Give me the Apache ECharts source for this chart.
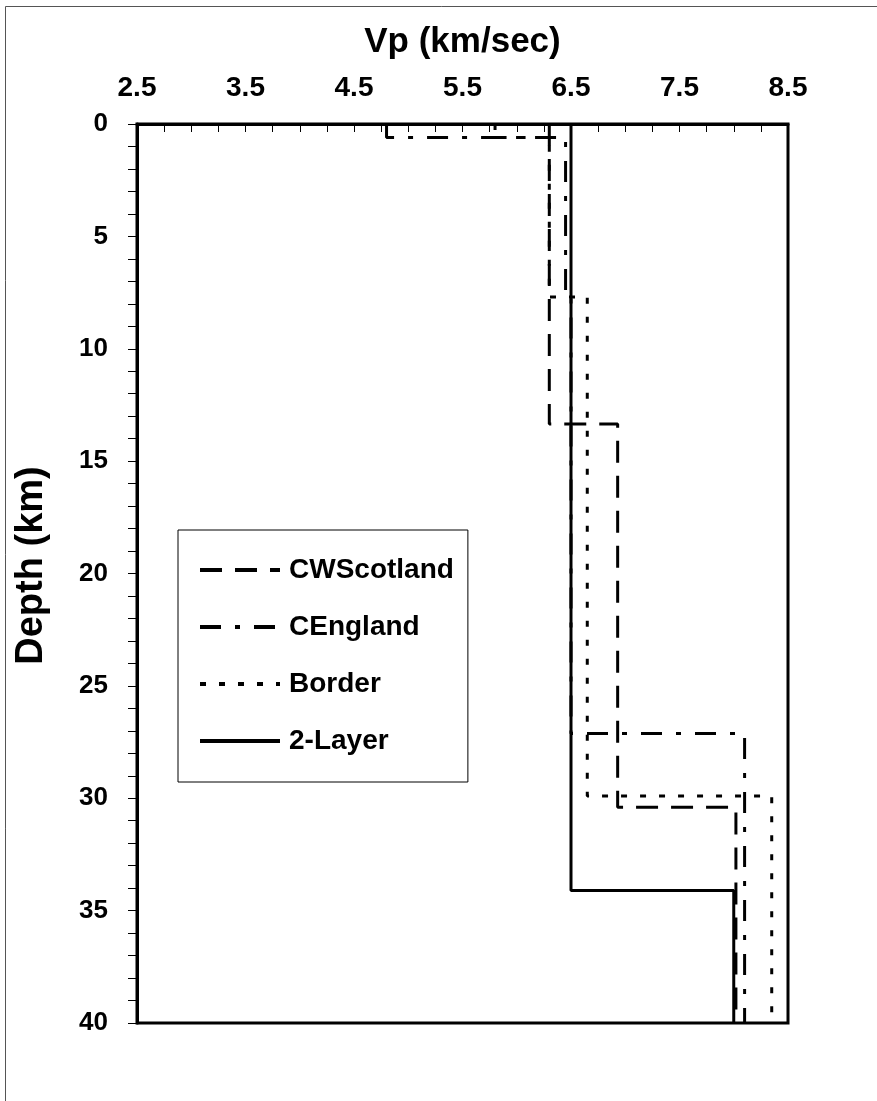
<!DOCTYPE html>
<html>
<head>
<meta charset="utf-8">
<script src="https://cdn.jsdelivr.net/npm/echarts@6/dist/echarts.min.js"></script>
<style>
  html, body { margin: 0; padding: 0; background: #fff; }
  #chart { width: 877px; height: 1101px; }
</style>
</head>
<body>
<div id="chart"></div>
<script>
// Layer models: depth boundaries (km) and P-wave velocity of each layer (km/s)
const cwScotlandDepths = [0, 13.35, 30.4, 40];
const cwScotlandVp     = [6.3, 6.93, 8.02];

const cEnglandDepths = [0, 0.6, 7.7, 27.12, 40];
const cEnglandVp     = [4.8, 6.45, 6.5, 8.1];

const borderDepths = [0, 0.6, 7.7, 29.9, 40];
const borderVp     = [5.8, 6.3, 6.65, 8.35];

const twoLayerDepths = [0, 34.1, 40];
const twoLayerVp     = [6.5, 8.0];

const seriesNames = ['CWScotland', 'CEngland', 'Border', '2-Layer'];
const vpTicks = [2.5, 3.5, 4.5, 5.5, 6.5, 7.5, 8.5];

// Turn a layered model into a stepped profile: constant velocity inside each layer
function profile(depths, vps) {
  const pts = [];
  for (let i = 0; i < vps.length; i++) {
    pts.push([vps[i], depths[i]]);
    pts.push([vps[i], depths[i + 1]]);
  }
  return pts;
}

const FONT = 'Liberation Sans, Arial, sans-serif';
const chart = echarts.init(document.getElementById('chart'), null, { renderer: 'canvas' });

function lineSeries(name, depths, vps, dash) {
  return {
    name: name,
    type: 'line',
    data: profile(depths, vps),
    symbol: 'none',
    showSymbol: false,
    animation: false,
    lineStyle: { color: '#000', width: 3, type: dash, cap: 'butt' },
    itemStyle: { color: '#000' },
    z: 3
  };
}

chart.setOption({
  backgroundColor: '#fff',
  animation: false,
  graphic: [{
    type: 'rect',
    shape: { x: 5.5, y: 6.5, width: 900, height: 1200 },
    style: { fill: 'none', stroke: '#555', lineWidth: 1 },
    silent: true,
    z: -10
  }],
  grid: {
    left: 137, right: 89, top: 124, bottom: 78,
    outerBoundsMode: 'none',
    containLabel: false,
    show: true, borderColor: '#000', borderWidth: 3, backgroundColor: 'transparent'
  },
  legend: {
    orient: 'vertical',
    left: 178, top: 530,
    data: seriesNames,
    itemWidth: 80, itemHeight: 14,
    itemGap: 29,
    padding: [26, 14, 27, 20],
    borderColor: '#000', borderWidth: 1,
    backgroundColor: '#fff',
    itemStyle: { opacity: 0 },
    lineStyle: { width: 4, color: '#000' },
    textStyle: { fontFamily: FONT, fontWeight: 'bold', fontSize: 28, color: '#000', lineHeight: 28, padding: [0, 0, 0, 4] },
    selectedMode: false
  },
  xAxis: {
    type: 'value',
    position: 'top',
    min: 2.5, max: 8.5, interval: 1,
    name: 'Vp (km/sec)',
    nameLocation: 'middle',
    nameGap: 64,
    nameTextStyle: { fontFamily: FONT, fontWeight: 'bold', fontSize: 35, color: '#000' },
    axisLine: { show: true, onZero: false, lineStyle: { color: '#000', width: 3 } },
    axisTick: { show: true, inside: true, length: 8, lineStyle: { color: '#000', width: 1 } },
    minorTick: { show: true, splitNumber: 4, length: 8, lineStyle: { color: '#000', width: 1 } },
    splitLine: { show: false },
    axisLabel: {
      margin: 22,
      fontFamily: FONT, fontWeight: 'bold', fontSize: 28, color: '#000',
      formatter: v => vpTicks.find(t => Math.abs(t - v) < 1e-6)?.toFixed(1) ?? ''
    }
  },
  yAxis: {
    type: 'value',
    inverse: true,
    min: 0, max: 40, interval: 5,
    name: 'Depth (km)',
    nameLocation: 'middle',
    nameGap: 86,
    nameRotate: 90,
    nameTextStyle: { fontFamily: FONT, fontWeight: 'bold', fontSize: 38, color: '#000', padding: [0, 0, 0, 16] },
    axisLine: { show: true, onZero: false, lineStyle: { color: '#000', width: 3 } },
    axisTick: { show: true, inside: false, length: 9, lineStyle: { color: '#000', width: 1 } },
    minorTick: { show: true, splitNumber: 5, length: 9, lineStyle: { color: '#000', width: 1 } },
    splitLine: { show: false },
    axisLabel: {
      margin: 29,
      fontFamily: FONT, fontWeight: 'bold', fontSize: 26, color: '#000'
    }
  },
  series: [
    lineSeries('CWScotland', cwScotlandDepths, cwScotlandVp, [22, 13]),
    lineSeries('CEngland', cEnglandDepths, cEnglandVp, [21, 14, 5, 14]),
    lineSeries('Border', borderDepths, borderVp, [6, 13]),
    lineSeries('2-Layer', twoLayerDepths, twoLayerVp, 'solid')
  ]
});
</script>
</body>
</html>
